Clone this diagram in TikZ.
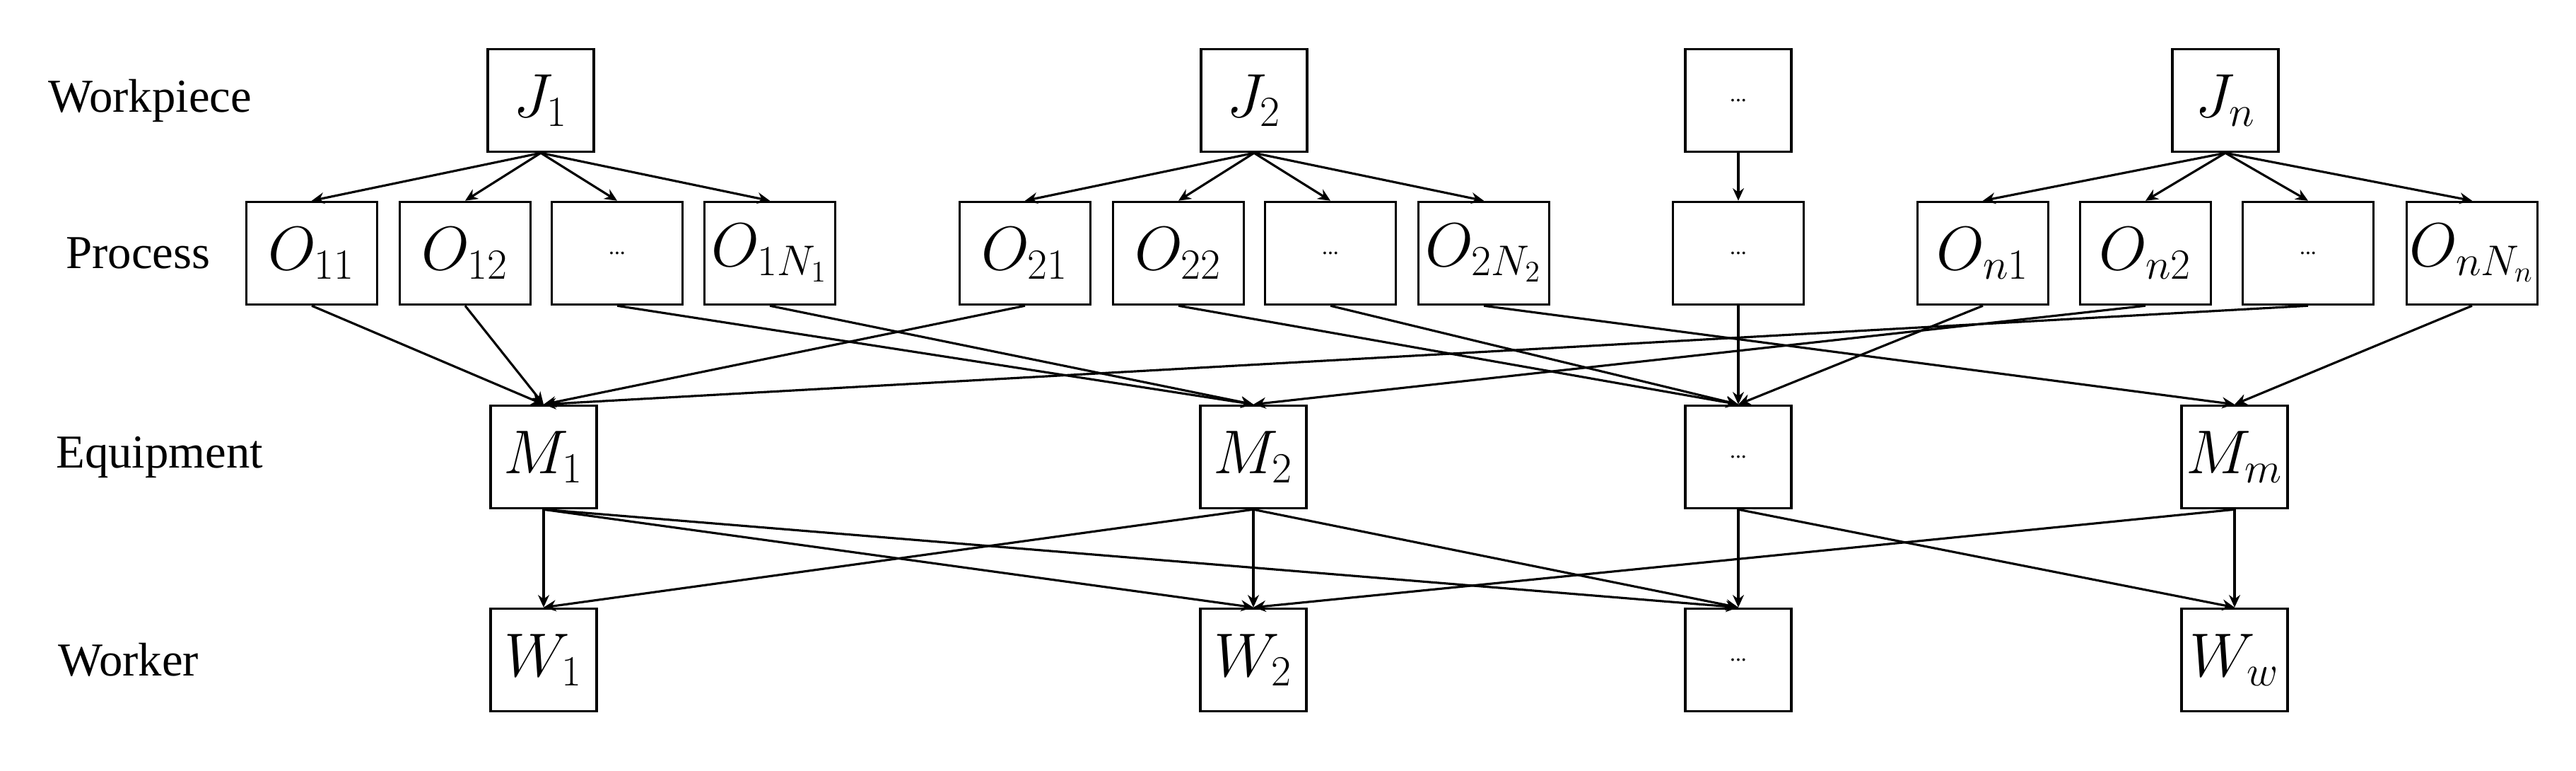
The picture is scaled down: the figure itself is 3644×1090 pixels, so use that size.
\documentclass[tikz,border=0pt]{standalone}
\usepackage{fontspec}
\setmainfont{Liberation Serif}
\usetikzlibrary{arrows.meta}
\begin{document}
\begin{tikzpicture}[x=0.1mm,y=-0.1mm,
  box/.style={draw,line width=1pt,minimum width=15mm,minimum height=14.5mm,inner sep=0pt,font=\fontsize{24}{28}\selectfont},
  obox/.style={box,minimum width=18.5mm},
  lab/.style={anchor=west,font=\fontsize{19}{23}\selectfont},
  ar/.style={-{Stealth[length=5pt,width=4.5pt]},line width=0.9pt}]
\useasboundingbox (0,0) rectangle (3644,1090);
\node[lab] (lw) at (56,142) {Workpiece};
\node[lab] (lp) at (81,358) {Process};
\node[lab] (le) at (67,646) {Equipment};
\node[lab] (lk) at (70,933) {Worker};
\node[box] (J1) at (765,142) {$J_1$};
\node[box] (J2) at (1774,142) {$J_2$};
\node[box] (Jd) at (2459,142) {\small ...};
\node[box] (Jn) at (3148,142) {$J_n$};
\node[obox] (O11) at (441,358) {$O_{11}$};
\node[obox] (O12) at (658,358) {$O_{12}$};
\node[obox] (O1d) at (873,358) {\small ...};
\node[obox] (O1N) at (1089,358) {$O_{1N_1}$};
\node[obox] (O21) at (1450,358) {$O_{21}$};
\node[obox] (O22) at (1667,358) {$O_{22}$};
\node[obox] (O2d) at (1882,358) {\small ...};
\node[obox] (O2N) at (2099,358) {$O_{2N_2}$};
\node[obox] (Od) at (2459,358) {\small ...};
\node[obox] (On1) at (2805,358) {$O_{n1}$};
\node[obox] (On2) at (3035,358) {$O_{n2}$};
\node[obox] (Ond) at (3265,358) {\small ...};
\node[obox] (OnN) at (3497,358) {$O_{nN_n}$};
\node[box] (M1) at (769,646) {$M_1$};
\node[box] (M2) at (1773,646) {$M_2$};
\node[box] (Md) at (2459,646) {\small ...};
\node[box] (Mm) at (3161,646) {$M_m$};
\node[box] (W1) at (769,933) {$W_1$};
\node[box] (W2) at (1773,933) {$W_2$};
\node[box] (Wd) at (2459,933) {\small ...};
\node[box] (Ww) at (3161,933) {$W_w$};
\foreach \a/\b in {J1/O11,J1/O12,J1/O1d,J1/O1N,J2/O21,J2/O22,J2/O2d,J2/O2N,Jd/Od,Jn/On1,Jn/On2,Jn/Ond,Jn/OnN,
  O11/M1,O12/M1,O1d/M2,O1N/M2,O21/M1,O22/Md,O2d/Md,O2N/Mm,Od/Md,On1/Md,On2/M2,Ond/M1,OnN/Mm,
  M1/W1,M1/W2,M1/Wd,M2/W1,M2/W2,M2/Wd,Md/Wd,Md/Ww,Mm/Ww,Mm/W2}
  \draw[ar] (\a.south) -- (\b.north);
\end{tikzpicture}
\end{document}
